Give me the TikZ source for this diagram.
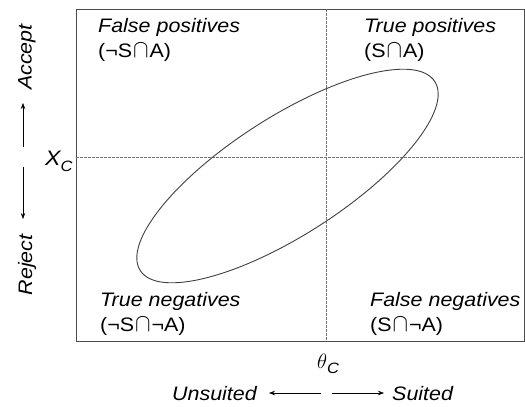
\documentclass[tikz,border=0pt]{standalone}
\usepackage{graphicx}
\usepackage{fontspec}
\setmainfont{Liberation Sans}[FakeStretch=1.1]
\newcommand{\isect}{\kern0.05em\scalebox{1.12}[1.22]{$\cap$}\kern0.05em}
\usetikzlibrary{arrows.meta}
\begin{document}
\begin{tikzpicture}[x=1pt,y=-1pt,
  quad/.style={font=\fontsize{19.5}{25}\selectfont\itshape, inner sep=0pt, anchor=base west, align=left},
  axlbl/.style={font=\fontsize{19.5}{24}\selectfont\itshape, inner sep=0pt},
  frame/.style={draw=black!70, line width=0.9pt},
  guide/.style={draw=black!55, line width=0.6pt, dash pattern=on 2.5pt off 1.5pt},
  curve/.style={draw=black!75, line width=0.9pt},
  arr/.style={draw=black, line width=0.7pt, -{Stealth[length=6pt,width=4.5pt]}}
]
\useasboundingbox (0,0) rectangle (525,407);
\fill[white] (0,0) rectangle (525,407);
% frame and guides
\coordinate (tl) at (76,9);
\coordinate (br) at (524,341);
\draw[frame] (tl) rectangle (br);
\coordinate (vt) at (326,9);
\coordinate (vb) at (326,341);
\coordinate (hl) at (76,157);
\coordinate (hr) at (524,157);
\draw[guide] (vt) -- (vb);
\draw[guide] (hl) -- (hr);
% ellipse
\coordinate (ec) at (287.5,176);
\draw[curve, rotate around={32.7:(ec)}] (ec) ellipse [x radius=175, y radius=59];
% quadrant labels (anchored at the baseline of their second line)
\node[quad] (fp) at (98,57) {False positives\\\upshape(¬S\isect A)};
\node[quad] (tp) at (364,57) {True positives\\\upshape(S\isect A)};
\node[quad] (tn) at (100,331) {True negatives\\\upshape(¬S\isect¬A)};
\node[quad] (fn) at (370,331) {False negatives\\\upshape(S\isect¬A)};
% axis thresholds
\node[axlbl, anchor=base west] (theta) at (317,368) {$\theta$\raisebox{-0.3em}{\fontsize{15}{15}\selectfont\itshape C}};
\node[axlbl, anchor=base west] (xc) at (45,165) {\fontsize{21}{25}\selectfont X\raisebox{-0.3em}{\fontsize{15}{15}\selectfont\itshape C}};
% vertical axis
\node[axlbl, rotate=90] (acc) at (27,57) {Accept};
\node[axlbl, rotate=90] (rej) at (27,265) {Reject};
\coordinate (ua) at (23,147);
\coordinate (ub) at (23,103);
\coordinate (da) at (23,167);
\coordinate (db) at (23,219);
\draw[arr] (ua) -- (ub);
\draw[arr] (da) -- (db);
% horizontal axis
\node[axlbl, anchor=base east] (uns) at (257,400) {Unsuited};
\node[axlbl, anchor=base west] (sui) at (392,400) {Suited};
\coordinate (la) at (321,393);
\coordinate (lb) at (269,393);
\coordinate (ra) at (332,393);
\coordinate (rb) at (384,393);
\draw[arr] (la) -- (lb);
\draw[arr] (ra) -- (rb);
\end{tikzpicture}
\end{document}
